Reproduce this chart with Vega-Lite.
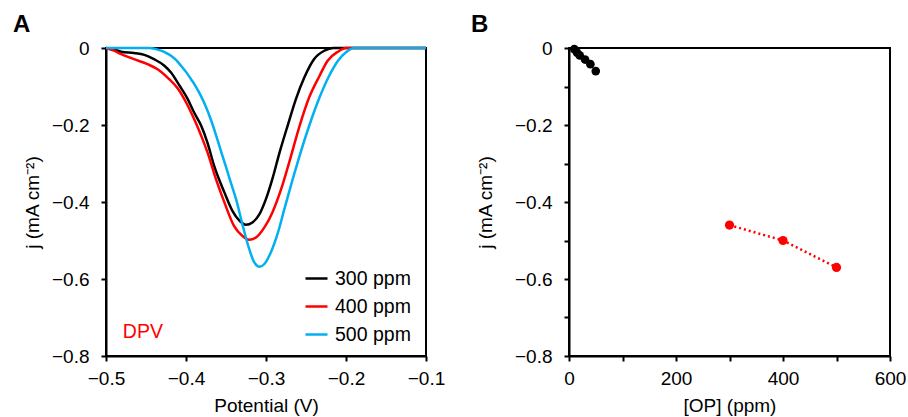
{
  "$schema": "https://vega.github.io/schema/vega-lite/v6.json",
  "padding": {"left": 12, "top": 12, "right": 2, "bottom": 0},
  "bounds": "flush",
  "spacing": 143,
  "config": {
    "font": "Liberation Sans",
    "view": {"stroke": "black", "strokeWidth": 2},
    "axis": {
      "grid": false,
      "domainColor": "black",
      "domainWidth": 2,
      "tickColor": "black",
      "tickWidth": 2,
      "tickSize": 5,
      "labelFont": "Liberation Sans",
      "labelFontSize": 19,
      "labelColor": "black",
      "titleFont": "Liberation Sans",
      "titleFontSize": 19,
      "titleFontWeight": "normal",
      "titleColor": "black"
    },
    "axisX": {"labelPadding": 8.5, "titlePadding": 8, "labelFlush": false},
    "axisY": {"labelPadding": 12, "titlePadding": 9},
    "title": {"fontSize": 24, "fontWeight": "bold", "anchor": "start", "frame": "group", "color": "black", "offset": 2}
  },
  "datasets": {
    "curves": [
      {"s": "300 ppm", "v": -0.5, "j": 0},
      {"s": "300 ppm", "v": -0.49, "j": -0.004},
      {"s": "300 ppm", "v": -0.481, "j": -0.0096},
      {"s": "300 ppm", "v": -0.465, "j": -0.013},
      {"s": "300 ppm", "v": -0.452, "j": -0.018},
      {"s": "300 ppm", "v": -0.44, "j": -0.029},
      {"s": "300 ppm", "v": -0.427, "j": -0.046},
      {"s": "300 ppm", "v": -0.419, "j": -0.063},
      {"s": "300 ppm", "v": -0.408, "j": -0.098},
      {"s": "300 ppm", "v": -0.398, "j": -0.132},
      {"s": "300 ppm", "v": -0.39, "j": -0.167},
      {"s": "300 ppm", "v": -0.381, "j": -0.202},
      {"s": "300 ppm", "v": -0.373, "j": -0.247},
      {"s": "300 ppm", "v": -0.365, "j": -0.305},
      {"s": "300 ppm", "v": -0.352, "j": -0.375},
      {"s": "300 ppm", "v": -0.342, "j": -0.423},
      {"s": "300 ppm", "v": -0.333, "j": -0.449},
      {"s": "300 ppm", "v": -0.325, "j": -0.459},
      {"s": "300 ppm", "v": -0.317, "j": -0.453},
      {"s": "300 ppm", "v": -0.308, "j": -0.431},
      {"s": "300 ppm", "v": -0.3, "j": -0.392},
      {"s": "300 ppm", "v": -0.292, "j": -0.34},
      {"s": "300 ppm", "v": -0.283, "j": -0.271},
      {"s": "300 ppm", "v": -0.273, "j": -0.202},
      {"s": "300 ppm", "v": -0.2625, "j": -0.132},
      {"s": "300 ppm", "v": -0.252, "j": -0.076},
      {"s": "300 ppm", "v": -0.24, "j": -0.029},
      {"s": "300 ppm", "v": -0.227, "j": -0.007},
      {"s": "300 ppm", "v": -0.216, "j": 0},
      {"s": "300 ppm", "v": -0.2, "j": 0},
      {"s": "300 ppm", "v": -0.1, "j": 0},
      {"s": "400 ppm", "v": -0.5, "j": 0},
      {"s": "400 ppm", "v": -0.49, "j": -0.007},
      {"s": "400 ppm", "v": -0.481, "j": -0.016},
      {"s": "400 ppm", "v": -0.465, "j": -0.029},
      {"s": "400 ppm", "v": -0.448, "j": -0.042},
      {"s": "400 ppm", "v": -0.435, "j": -0.056},
      {"s": "400 ppm", "v": -0.423, "j": -0.077},
      {"s": "400 ppm", "v": -0.41, "j": -0.106},
      {"s": "400 ppm", "v": -0.4, "j": -0.141},
      {"s": "400 ppm", "v": -0.39, "j": -0.184},
      {"s": "400 ppm", "v": -0.381, "j": -0.228},
      {"s": "400 ppm", "v": -0.371, "j": -0.284},
      {"s": "400 ppm", "v": -0.365, "j": -0.325},
      {"s": "400 ppm", "v": -0.352, "j": -0.401},
      {"s": "400 ppm", "v": -0.34, "j": -0.462},
      {"s": "400 ppm", "v": -0.329, "j": -0.489},
      {"s": "400 ppm", "v": -0.321, "j": -0.498},
      {"s": "400 ppm", "v": -0.3125, "j": -0.492},
      {"s": "400 ppm", "v": -0.302, "j": -0.466},
      {"s": "400 ppm", "v": -0.292, "j": -0.427},
      {"s": "400 ppm", "v": -0.281, "j": -0.366},
      {"s": "400 ppm", "v": -0.271, "j": -0.297},
      {"s": "400 ppm", "v": -0.258, "j": -0.202},
      {"s": "400 ppm", "v": -0.246, "j": -0.128},
      {"s": "400 ppm", "v": -0.233, "j": -0.072},
      {"s": "400 ppm", "v": -0.223, "j": -0.033},
      {"s": "400 ppm", "v": -0.21, "j": -0.0096},
      {"s": "400 ppm", "v": -0.2, "j": 0},
      {"s": "400 ppm", "v": -0.1, "j": 0},
      {"s": "500 ppm", "v": -0.5, "j": 0},
      {"s": "500 ppm", "v": -0.446, "j": 0},
      {"s": "500 ppm", "v": -0.4375, "j": -0.003},
      {"s": "500 ppm", "v": -0.43125, "j": -0.007},
      {"s": "500 ppm", "v": -0.425, "j": -0.0125},
      {"s": "500 ppm", "v": -0.41875, "j": -0.02},
      {"s": "500 ppm", "v": -0.4125, "j": -0.031},
      {"s": "500 ppm", "v": -0.40625, "j": -0.046},
      {"s": "500 ppm", "v": -0.4, "j": -0.062},
      {"s": "500 ppm", "v": -0.39375, "j": -0.081},
      {"s": "500 ppm", "v": -0.3875, "j": -0.101},
      {"s": "500 ppm", "v": -0.38125, "j": -0.125},
      {"s": "500 ppm", "v": -0.375, "j": -0.153},
      {"s": "500 ppm", "v": -0.36875, "j": -0.187},
      {"s": "500 ppm", "v": -0.3625, "j": -0.226},
      {"s": "500 ppm", "v": -0.35625, "j": -0.268},
      {"s": "500 ppm", "v": -0.35, "j": -0.309},
      {"s": "500 ppm", "v": -0.34375, "j": -0.351},
      {"s": "500 ppm", "v": -0.3375, "j": -0.392},
      {"s": "500 ppm", "v": -0.329, "j": -0.462},
      {"s": "500 ppm", "v": -0.321, "j": -0.522},
      {"s": "500 ppm", "v": -0.3146, "j": -0.557},
      {"s": "500 ppm", "v": -0.308, "j": -0.568},
      {"s": "500 ppm", "v": -0.302, "j": -0.561},
      {"s": "500 ppm", "v": -0.294, "j": -0.531},
      {"s": "500 ppm", "v": -0.285, "j": -0.479},
      {"s": "500 ppm", "v": -0.277, "j": -0.418},
      {"s": "500 ppm", "v": -0.269, "j": -0.358},
      {"s": "500 ppm", "v": -0.258, "j": -0.28},
      {"s": "500 ppm", "v": -0.246, "j": -0.202},
      {"s": "500 ppm", "v": -0.233, "j": -0.128},
      {"s": "500 ppm", "v": -0.221, "j": -0.072},
      {"s": "500 ppm", "v": -0.21, "j": -0.033},
      {"s": "500 ppm", "v": -0.2, "j": -0.011},
      {"s": "500 ppm", "v": -0.19, "j": 0},
      {"s": "500 ppm", "v": -0.1, "j": 0}
    ],
    "note": [{"v": -0.479, "j": -0.738, "t": "DPV"}],
    "points": [
      {"g": "low", "c": 10, "j": -0.003},
      {"g": "low", "c": 15, "j": -0.012},
      {"g": "low", "c": 20, "j": -0.019},
      {"g": "low", "c": 30, "j": -0.03},
      {"g": "low", "c": 40, "j": -0.042},
      {"g": "low", "c": 50, "j": -0.06},
      {"g": "high", "c": 300, "j": -0.46},
      {"g": "high", "c": 400, "j": -0.5},
      {"g": "high", "c": 500, "j": -0.57}
    ]
  },
  "hconcat": [
    {
      "width": 320,
      "height": 308,
      "title": {"text": "A", "dx": -93},
      "layer": [
        {
          "data": {"name": "curves"},
          "mark": {"type": "line", "strokeWidth": 2.5, "interpolate": "monotone"},
          "encoding": {
            "x": {
              "field": "v", "type": "quantitative",
              "scale": {"domain": [-0.5, -0.1], "nice": false, "zero": false},
              "axis": {
                "title": "Potential (V)",
                "values": [-0.5, -0.45, -0.4, -0.35, -0.3, -0.25, -0.2, -0.15, -0.1],
                "labelExpr": "indexof([-0.5, -0.4, -0.3, -0.2, -0.1], datum.value) >= 0 ? format(datum.value, '.1f') : ''"
              }
            },
            "y": {
              "field": "j", "type": "quantitative",
              "scale": {"domain": [-0.8, 0], "nice": false, "zero": false},
              "axis": {
                "title": "j (mA cm⁻²)",
                "values": [0, -0.1, -0.2, -0.3, -0.4, -0.5, -0.6, -0.7, -0.8],
                "labelExpr": "datum.value == 0 ? '0' : (indexof([-0.2, -0.4, -0.6, -0.8], datum.value) >= 0 ? format(datum.value, '.1f') : '')"
              }
            },
            "color": {
              "field": "s", "type": "nominal",
              "scale": {"domain": ["300 ppm", "400 ppm", "500 ppm"], "range": ["#000000", "#FF0000", "#00B0F0"]},
              "legend": {
                "title": null,
                "orient": "none",
                "legendX": 198,
                "legendY": 218,
                "padding": 0,
                "symbolType": "stroke",
                "symbolSize": 484,
                "symbolStrokeWidth": 2.5,
                "labelFontSize": 19.5,
                "labelColor": "black",
                "labelOffset": 6,
                "rowPadding": 6
              }
            }
          }
        },
        {
          "data": {"name": "note"},
          "mark": {"type": "text", "align": "left", "baseline": "middle", "fontSize": 19.5, "color": "#FF0000"},
          "encoding": {
            "x": {"field": "v", "type": "quantitative"},
            "y": {"field": "j", "type": "quantitative"},
            "text": {"field": "t"}
          }
        }
      ]
    },
    {
      "width": 321,
      "height": 308,
      "title": {"text": "B", "dx": -98},
      "data": {"name": "points"},
      "encoding": {
        "x": {
          "field": "c", "type": "quantitative",
          "scale": {"domain": [0, 600], "nice": false},
          "axis": {
            "title": "[OP] (ppm)",
            "values": [0, 100, 200, 300, 400, 500, 600],
            "labelExpr": "datum.value % 200 == 0 ? format(datum.value, 'd') : ''"
          }
        },
        "y": {
          "field": "j", "type": "quantitative",
          "scale": {"domain": [-0.8, 0], "nice": false, "zero": false},
          "axis": {
            "title": "j (mA cm⁻²)",
            "titlePadding": 19,
            "values": [0, -0.1, -0.2, -0.3, -0.4, -0.5, -0.6, -0.7, -0.8],
            "labelExpr": "datum.value == 0 ? '0' : (indexof([-0.2, -0.4, -0.6, -0.8], datum.value) >= 0 ? format(datum.value, '.1f') : '')"
          }
        }
      },
      "layer": [
        {
          "transform": [{"filter": "datum.g == 'high'"}],
          "mark": {"type": "line", "color": "#FF0000", "strokeWidth": 2.5, "strokeDash": [2, 3]}
        },
        {
          "transform": [{"filter": "datum.g == 'low'"}],
          "mark": {"type": "point", "filled": true, "opacity": 1, "size": 75, "color": "#000000"}
        },
        {
          "transform": [{"filter": "datum.g == 'high'"}],
          "mark": {"type": "point", "filled": true, "opacity": 1, "size": 85, "color": "#FF0000"}
        }
      ]
    }
  ]
}
